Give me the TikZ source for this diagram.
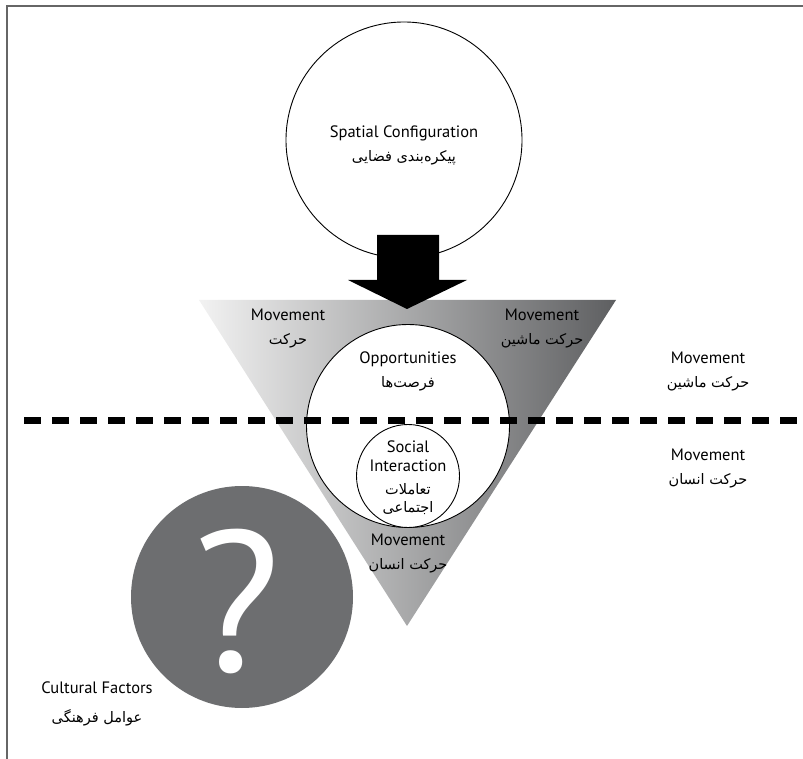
\documentclass[tikz,border=0pt]{standalone}
\usepackage{fontspec}
\setmainfont{PT Sans}
\newfontfamily\fafont[Script=Arabic]{DejaVu Sans}
\TeXXeTstate=1
\definecolor{dgray}{HTML}{6D6E70}
\definecolor{framegray}{HTML}{666666}
\definecolor{trilight}{HTML}{F2F2F2}
\definecolor{tridark}{HTML}{5E5F61}
\begin{document}
\begin{tikzpicture}[x=1pt,y=-1pt,
  en/.style={font=\fontsize{16.5}{18}\selectfont, inner sep=0pt},
  fa/.style={font=\fafont\fontsize{14.5}{16}\selectfont, inner sep=0pt},
  ring/.style={circle, draw=black, line width=0.9pt, fill=white, inner sep=0pt}]
\useasboundingbox (0,0) rectangle (803,759);
% frame
\draw[framegray, line width=1.8pt] (7,759) -- (7,6) -- (803,6);
% triangle
\shade[left color=trilight, right color=tridark] (199,300) -- (616,300) -- (407,626) -- cycle;
% spatial configuration circle
\node[ring, minimum size=236pt] (spatial) at (404,140) {};
\node[en] (sp-en) at (404,133) {Spatial Configuration};
\node[fa] (sp-fa) at (404,158) {\beginR پیکره‌بندی فضایی\endR};
% block arrow
\coordinate (atop) at (408,235);
\coordinate (atip) at (407,309);
\fill[black] (atop) ++(-31,0) -- ++(62,0) -- ++(0,45) -- ++(28,0) -- (atip) -- (348,280) -- (377,280) -- cycle;
% opportunities
\node[ring, minimum size=203pt] (opp) at (408,426) {};
\node[en] (opp-en) at (408,359) {Opportunities};
\node[fa] (opp-fa) at (408,384) {\beginR فرصت‌ها\endR};
% dashed line
\coordinate (dl) at (24,420);
\coordinate (dr) at (803,420);
\draw[black, line width=7pt, dash pattern=on 17pt off 11pt] (dl) -- (dr);
% social interaction
\node[ring, minimum size=103pt] (soc) at (408,476) {};
\node[en] (soc-en1) at (408,447) {Social};
\node[en] (soc-en2) at (408,466) {Interaction};
\node[fa] (soc-fa1) at (408,489) {\beginR تعاملات\endR};
\node[fa] (soc-fa2) at (408,508) {\beginR اجتماعی\endR};
% movement labels in triangle
\node[en] (mv1-en) at (288,315) {Movement};
\node[fa] (mv1-fa) at (288,341) {\beginR حرکت\endR};
\node[en] (mv2-en) at (542,315) {Movement};
\node[fa] (mv2-fa) at (542,341) {\beginR حرکت ماشین\endR};
\node[en] (mv3-en) at (408,540) {Movement};
\node[fa] (mv3-fa) at (408,566) {\beginR حرکت انسان\endR};
% right labels
\node[en] (mv4-en) at (708,358) {Movement};
\node[fa] (mv4-fa) at (708,384) {\beginR حرکت ماشین\endR};
\node[en] (mv5-en) at (708,455) {Movement};
\node[fa] (mv5-fa) at (708,481) {\beginR حرکت انسان\endR};
% question circle
\node[circle, fill=dgray, minimum size=222pt, inner sep=0pt] (qc) at (242,597) {};
\node[text=white, inner sep=0pt, font=\fontsize{200}{200}\selectfont] (qm) at (237,601) {?};
\node[en] (cf-en) at (97,688) {Cultural Factors};
\node[fa] (cf-fa) at (97,718) {\beginR عوامل فرهنگی\endR};
\end{tikzpicture}
\end{document}
